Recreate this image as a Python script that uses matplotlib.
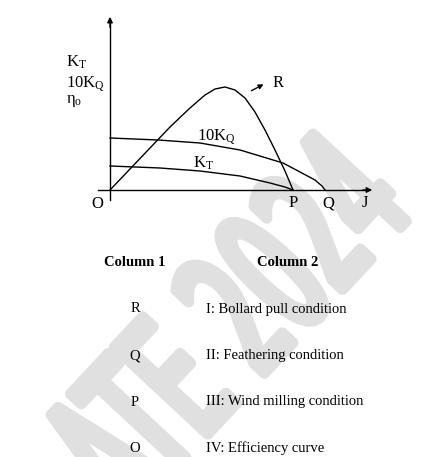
import matplotlib
matplotlib.use("Agg")
import numpy as np
import matplotlib.pyplot as plt
from matplotlib.textpath import TextPath
from matplotlib.patches import PathPatch
from matplotlib.font_manager import FontProperties
from matplotlib.transforms import Affine2D

plt.rcParams['font.family'] = ['Liberation Serif', 'DejaVu Serif']
plt.rcParams['mathtext.fontset'] = 'custom'
plt.rcParams['mathtext.rm'] = 'Liberation Serif'
plt.rcParams['mathtext.it'] = 'Liberation Serif:italic'

# curve shapes (J, value), origin at O
eff_j = [0, 20, 40, 60, 80, 95, 105, 115, 125, 135, 145, 155, 165, 175, 183]
eff_v = [0, 21, 42, 63, 82, 95, 101, 103, 100, 92, 78, 60, 40, 19, 0]
kq_j = [0, 48, 90, 130, 173, 190, 205, 212, 215]
kq_v = [52, 50, 47, 40, 27, 18, 10, 4, 0]
kt_j = [0, 50, 90, 130, 160, 175, 183]
kt_v = [24, 22, 19, 14, 7, 3, 0]

col1 = ['R', 'Q', 'P', 'O']
col2 = ['I: Bollard pull condition', 'II: Feathering condition',
        'III: Wind milling condition', 'IV: Efficiency curve']

fig = plt.figure(figsize=(4.46, 4.57), dpi=100)
ax = fig.add_axes([0, 0, 1, 1])
ax.set_xlim(-110, 336)
ax.set_ylim(-267, 190)
ax.axis('off')

# watermark: condensed, rotated text outline with rounded strokes
sx, sy, ang = 90, 175, 47
tp = TextPath((0, 0), 'ATE 2024', size=1,
              prop=FontProperties(family='DejaVu Sans'))
a = np.radians(ang)
d = 5.1 * sx
tr = Affine2D().scale(sx, sy).rotate_deg(ang).translate(330 - d * np.cos(a), 5 - d * np.sin(a))
ax.add_patch(PathPatch(tr.transform_path(tp), facecolor='#e0e0e0', edgecolor='#e0e0e0',
                       lw=8, joinstyle='round', capstyle='round', zorder=0))

# axes with arrows
ax.plot([0, 0], [-10, 170], color='black', lw=1)
ax.annotate('', xy=(0, 176), xytext=(0, 160),
            arrowprops=dict(arrowstyle='-|>', color='black', lw=1, mutation_scale=8))
ax.plot([-12, 255], [0, 0], color='black', lw=1)
ax.annotate('', xy=(265, 0), xytext=(250, 0),
            arrowprops=dict(arrowstyle='-|>', color='black', lw=1, mutation_scale=8))

ax.plot(eff_j, eff_v, color='black', lw=1)
ax.plot(kq_j, kq_v, color='black', lw=1)
ax.plot(kt_j, kt_v, color='black', lw=1)

fs = 12
ax.text(-44, 128, r'K$_\mathrm{T}$', fontsize=fs, va='center')
ax.text(-44, 106, r'10K$_\mathrm{Q}$', fontsize=fs, va='center')
ax.text(-44, 89, r'η$_\mathrm{o}$', fontsize=fs, va='center')
ax.text(87, 53, r'10K$_\mathrm{Q}$', fontsize=fs, va='center')
ax.text(83, 27, r'K$_\mathrm{T}$', fontsize=fs, va='center')

ax.annotate('', xy=(156, 107), xytext=(139, 98),
            arrowprops=dict(arrowstyle='-|>', color='black', lw=1, mutation_scale=7))
ax.text(163, 107, 'R', fontsize=fs, va='center')

ax.text(-13, -14, 'O', fontsize=fs, ha='center', va='center')
ax.text(183, -13, 'P', fontsize=fs, ha='center', va='center')
ax.text(218, -13, 'Q', fontsize=fs, ha='center', va='center')
ax.text(255, -13, 'J', fontsize=fs, ha='center', va='center')

# match table
ax.text(25, -73, 'Column 1', fontsize=10.5, fontweight='bold', ha='center', va='center')
ax.text(178, -73, 'Column 2', fontsize=10.5, fontweight='bold', ha='center', va='center')
for i, (a_, b) in enumerate(zip(col1, col2)):
    y = -119 - 46.5 * i
    ax.text(25, y, a_, fontsize=10.5, ha='center', va='center')
    ax.text(96, y, b, fontsize=10.5, ha='left', va='center')

fig.savefig('out.png', dpi=100)
